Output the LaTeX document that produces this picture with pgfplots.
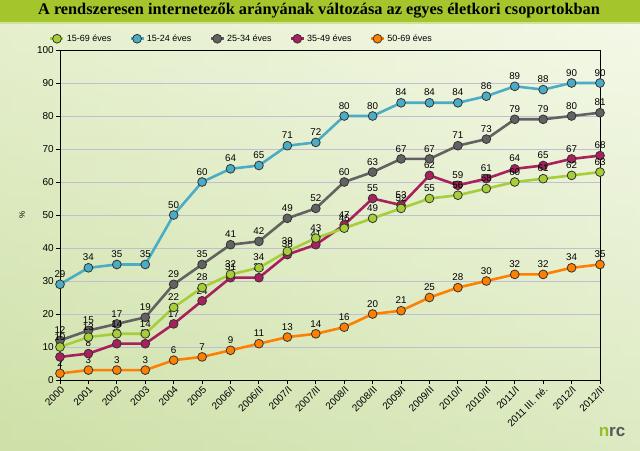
\documentclass[border=0pt]{standalone}
\usepackage{pgfplots}
\pgfplotsset{compat=1.18}
\usepackage{pgfplotstable}
\usepackage{fontspec}
\setmainfont{Liberation Sans}
\newfontfamily\titlefont{Liberation Serif}

\definecolor{cGreen}{RGB}{166,206,57}
\definecolor{cBlue}{RGB}{75,172,198}
\definecolor{cGray}{RGB}{98,98,98}
\definecolor{cMag}{RGB}{168,32,92}
\definecolor{cOra}{RGB}{255,128,0}
\definecolor{barc}{RGB}{164,198,44}
\definecolor{bgTop}{RGB}{240,246,222}
\definecolor{bgBot}{RGB}{206,225,168}
\definecolor{gridc}{RGB}{192,190,208}
\definecolor{logoG}{RGB}{150,190,40}
\definecolor{logoK}{RGB}{80,90,90}

\pgfplotstableread{
x  g  b  k  m  o
0  10 29 12  7  2
1  13 34 15  8  3
2  14 35 17 11  3
3  14 35 19 11  3
4  22 50 29 17  6
5  28 60 35 24  7
6  32 64 41 31  9
7  34 65 42 31 11
8  39 71 49 38 13
9  43 72 52 41 14
10 46 80 60 47 16
11 49 80 63 55 20
12 52 84 67 53 21
13 55 84 67 62 25
14 56 84 71 59 28
15 58 86 73 61 30
16 60 89 79 64 32
17 61 88 79 65 32
18 62 90 80 67 34
19 63 90 81 68 35
}\data

\pgfplotsset{
  ser/.style={line width=2.6pt, color=#1, line join=round, mark=*, mark size=4.4pt,
    mark options={draw=black!80, fill=#1, line width=0.8pt}},
  lab/.style={nodes near coords, every node near coord/.append style={
    font=\fontsize{9.8}{11}\selectfont, text=black, yshift=3pt}},
}

\begin{document}
\begin{tikzpicture}
\useasboundingbox (0pt,0pt) rectangle (640pt,450pt);
% background
\shade[top color=bgTop, bottom color=bgBot] (0pt,0pt) rectangle (640pt,428pt);
\shade[left color=bgBot, right color=white, opacity=0.3] (0pt,0pt) rectangle (640pt,428pt);
\fill[barc] (0pt,428pt) rectangle (640pt,450pt);
\fill[barc!50!white] (0pt,426pt) rectangle (640pt,428pt);
\node[font=\titlefont\bfseries\fontsize{16.3}{18}\selectfont] at (319pt,439pt)
  {A rendszeresen internetezők arányának változása az egyes életkori csoportokban};
\node[rotate=90, font=\fontsize{8}{9}\selectfont] at (22pt,235pt) {\%};
\node[font=\bfseries\fontsize{17}{17}\selectfont, inner sep=0pt] at (612pt,18pt)
  {\textcolor{logoG}{n}\textcolor{logoK}{rc}};

\begin{axis}[
  at={(60pt,70pt)}, anchor=south west,
  scale only axis, width=540pt, height=330pt,
  xmin=0, xmax=19, ymin=0, ymax=100,
  xtick={0,...,19},
  xticklabels={2000,2001,2002,2003,2004,2005,2006/I,2006/II,2007/I,2007/II,2008/I,2008/II,2009/I,2009/II,2010/I,2010/II,2011/I,2011 III. né.,2012/I,2012/II},
  ytick={0,10,...,100},
  ymajorgrids, grid style={gridc, line width=0.8pt},
  axis line style={black, line width=0.9pt},
  tick style={black, line width=0.9pt},
  tick align=outside, major tick length=4pt,
  xtick pos=bottom, ytick pos=left,
  tick label style={font=\fontsize{10}{12}\selectfont},
  /pgf/number format/assume math mode=true,
  xticklabel style={rotate=45, anchor=north east, inner sep=1pt},
  yticklabel style={inner sep=2pt},
  legend columns=5,
  legend style={draw=none, fill=none, at={(0,1)}, anchor=south west,
    xshift=-14pt, yshift=3pt, font=\fontsize{9}{10}\selectfont,
    /tikz/every even column/.append style={column sep=16pt}},
  legend image code/.code={\draw[mark repeat=2, mark phase=2, #1]
    plot coordinates {(0pt,0pt) (6.5pt,0pt) (13pt,0pt)};},
  clip=false,
]
\addlegendimage{ser=cGreen}
\addlegendimage{ser=cBlue}
\addlegendimage{ser=cGray}
\addlegendimage{ser=cMag}
\addlegendimage{ser=cOra}
\legend{15-69 éves,15-24 éves,25-34 éves,35-49 éves,50-69 éves}

\addplot[ser=cOra, lab, forget plot] table[x=x, y=o] {\data};
\addplot[ser=cMag, lab, forget plot] table[x=x, y=m] {\data};
\addplot[ser=cGray, lab, forget plot] table[x=x, y=k] {\data};
\addplot[ser=cBlue, lab, forget plot] table[x=x, y=b] {\data};
\addplot[ser=cGreen, lab, forget plot] table[x=x, y=g] {\data};
\end{axis}
\end{tikzpicture}
\end{document}
